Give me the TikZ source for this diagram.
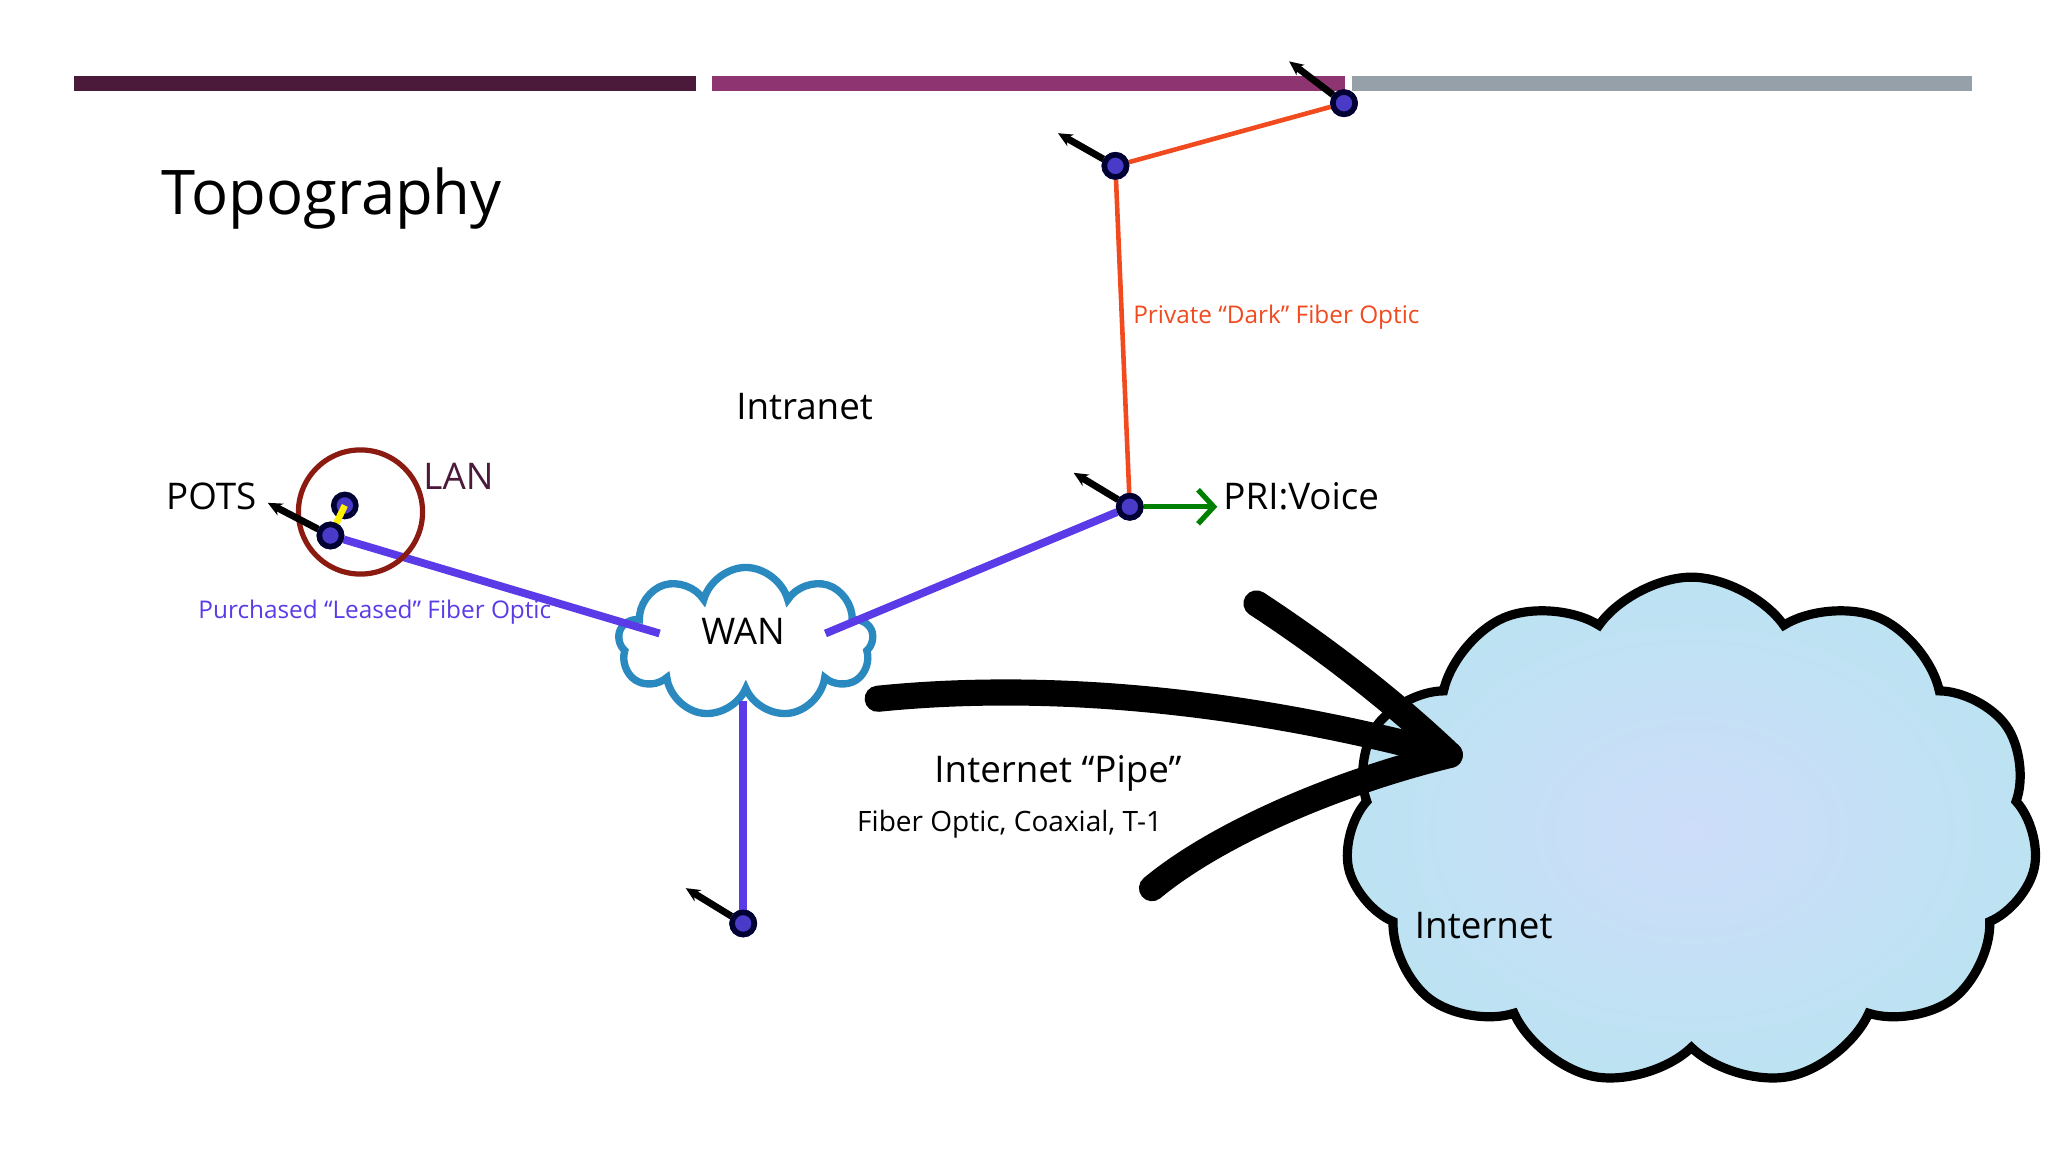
\documentclass[tikz,border=0pt]{standalone}
\usepackage{fontspec}
\setmainfont{Open Sans}
\usetikzlibrary{shapes.symbols,arrows.meta}
\definecolor{plum}{HTML}{4B1A3A}
\definecolor{mauve}{HTML}{8E3470}
\definecolor{greybar}{HTML}{95A0A8}
\definecolor{lanpurple}{HTML}{5B3BE8}
\definecolor{darkorange}{HTML}{F04A1E}
\definecolor{dotfill}{HTML}{4A3AC8}
\definecolor{lanred}{HTML}{8B1A10}
\definecolor{wanblue}{HTML}{2A8AC0}
\definecolor{skyblue}{HTML}{BCE3F2}
\tikzset{
  dot/.style={circle,draw=black!80!blue,line width=1.2pt,fill=dotfill,minimum size=0.17cm,inner sep=0},
  ptr/.style={-{Stealth[length=0.11cm,width=0.1cm]},line width=1.5pt,black},
  lbl/.style={font=\fontsize{8}{9}\selectfont,inner sep=0},
  small/.style={font=\fontsize{5.3}{6.5}\selectfont,inner sep=0},
  bar/.style={line width=0.11cm}
}
\begin{document}
\begin{tikzpicture}[x=0.01cm,y=-0.01cm]
\useasboundingbox (0,0) rectangle (1568,882);
% bars
\draw[bar,plum] (57,64) -- (533,64);
\draw[bar,mauve] (545,64) -- (1030,64);
\draw[bar,greybar] (1035,64) -- (1510,64);
\node[anchor=west,font=\fontsize{13.4}{16}\selectfont,inner sep=0] (title) at (123,152) {Topography};
% internet cloud
\node[cloud,cloud puffs=11,cloud puff arc=110,aspect=1.35,draw=black,line width=2pt,inner color=white!85!blue!60!skyblue,outer color=skyblue,minimum width=5.3cm,minimum height=3.9cm] (inet) at (1295,637) {};
\node[lbl] (inettxt) at (1136,709) {Internet};
% WAN cloud
\node[cloud,cloud puffs=9,aspect=1.7,draw=wanblue,line width=1.6pt,fill=white,minimum width=1.95cm,minimum height=1.15cm] (wan) at (571,492) {};
\node[lbl] (wantxt) at (569,483) {WAN};
% nodes
\node[dot] (a) at (264,387) {};
\node[dot] (b) at (253,410) {};
\node[dot] (c) at (865,388) {};
\node[dot] (d) at (854,127) {};
\node[dot] (e) at (1029,79) {};
\node[dot] (f) at (569,707) {};
\coordinate (wl) at (505,485);
\coordinate (wr) at (632,485);
\coordinate (wb) at (569,537);
% links
\draw[lanpurple,line width=0.06cm] (b) -- (wl);
\draw[lanpurple,line width=0.06cm] (wr) -- (c);
\draw[lanpurple,line width=0.06cm] (wb) -- (f);
\draw[darkorange,line width=0.035cm] (c) -- (d) -- (e);
\draw[yellow,line width=0.05cm] (264,387) -- (253,410);
\node[dot] at (b) {};\node[dot] at (c) {};\node[dot] at (d) {};\node[dot] at (e) {};\node[dot] at (f) {};
% LAN circle
\node[circle,draw=lanred,line width=0.04cm,minimum size=0.95cm,inner sep=0] (lan) at (276,392) {};
% pointer arrows
\coordinate (pb) at (205,385);
\coordinate (pc) at (822,362);
\coordinate (pd) at (810,102);
\coordinate (pe) at (987,47);
\coordinate (pf) at (525,680);
\draw[ptr] (b) -- (pb);
\draw[ptr] (c) -- (pc);
\draw[ptr] (d) -- (pd);
\draw[ptr] (e) -- (pe);
\draw[ptr] (f) -- (pf);
\coordinate (g) at (932,388);
\draw[-{Straight Barb[length=0.12cm,width=0.26cm]},line width=0.04cm,green!50!black] (c) -- (g);
% labels
\node[lbl,anchor=east] (pots) at (197,380) {POTS};
\node[lbl,text=plum] (lantxt) at (351,365) {LAN};
\node[small,text=lanpurple] (leased) at (287,469) {Purchased “Leased” Fiber Optic};
\node[lbl] (intra) at (616,311) {Intranet};
\node[small,text=darkorange,anchor=west] (dark) at (867,243) {Private “Dark” Fiber Optic};
\node[lbl,anchor=west] (pri) at (936,380) {PRI:Voice};
\node[lbl] (pipe) at (810,592) {Internet “Pipe”};
\node[font=\fontsize{6.1}{7}\selectfont,inner sep=0] (fib) at (773,631) {Fiber Optic, Coaxial, T-1};
% big black arrow
\coordinate (s) at (672,535);
\coordinate (tip) at (1110,578);
\coordinate (h1) at (962,462);
\coordinate (h2) at (882,680);
\draw[line width=0.2cm,line cap=round,line join=round] (s) .. controls (800,522) and (950,535) .. (tip);
\draw[line width=0.2cm,line cap=round,line join=round] (h1) .. controls (1020,500) and (1070,540) .. (tip) .. controls (1020,600) and (930,640) .. (h2);
\end{tikzpicture}
\end{document}
